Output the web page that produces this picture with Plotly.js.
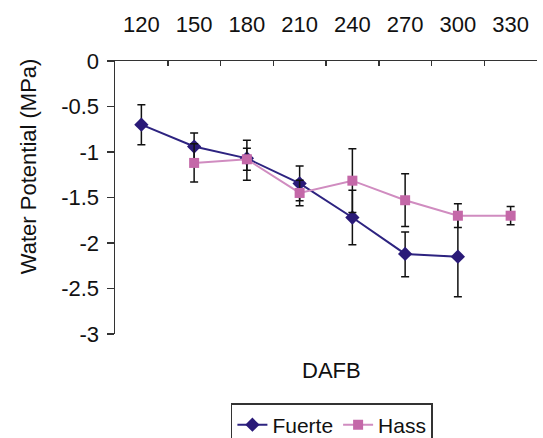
<!DOCTYPE html>
<html>
<head>
<meta charset="utf-8">
<script src="https://cdn.plot.ly/plotly-3.0.1.min.js"></script>
<style>html,body{margin:0;padding:0;background:#fff;}#chart{width:543px;height:438px;}</style>
</head>
<body>
<div id="chart"></div>
<script>
const categories = ['120','150','180','210','240','270','300','330'];
const fuerte = [-0.70, -0.94, -1.07, -1.345, -1.72, -2.12, -2.15, null];
const fuerteErrPlus = [0.22, 0.15, 0.20, 0.19, 0.30, 0.24, 0.42, null];
const fuerteErrMinus = [0.22, 0.15, 0.24, 0.19, 0.30, 0.25, 0.44, null];
const hass = [null, -1.12, -1.08, -1.45, -1.315, -1.53, -1.70, -1.70];
const hassErr = [null, 0.21, 0.12, 0.14, 0.35, 0.29, 0.13, 0.10];
const yTickVals = [0, -0.5, -1, -1.5, -2, -2.5, -3];
const yTickText = ['0', '-0.5', '-1', '-1.5', '-2', '-2.5', '-3'];

const font = 'Liberation Sans, Arial, sans-serif';
const fs = 22;

const traces = [
  {
    x: categories, y: fuerte, name: 'Fuerte', type: 'scatter', mode: 'lines+markers',
    line: {color: '#2d2380', width: 2},
    marker: {symbol: 'diamond', size: 11, color: '#2a1a78'},
    error_y: {type: 'data', array: fuerteErrPlus, arrayminus: fuerteErrMinus, symmetric: false,
              color: '#111', thickness: 1.5, width: 4},
    connectgaps: false
  },
  {
    x: categories, y: hass, name: 'Hass', type: 'scatter', mode: 'lines+markers',
    line: {color: '#d08cc0', width: 2},
    marker: {symbol: 'square', size: 10, color: '#c468a8'},
    error_y: {type: 'data', array: hassErr, color: '#111', thickness: 1.5, width: 4},
    connectgaps: false
  }
];

const layout = {
  width: 543, height: 438,
  margin: {l: 115, r: 6, t: 61, b: 104, autoexpand: false},
  paper_bgcolor: '#fff', plot_bgcolor: '#fff',
  font: {family: font, size: fs, color: '#111'},
  showlegend: true,
  legend: {
    orientation: 'h', x: 0.514, xanchor: 'center', y: -0.253, yanchor: 'top',
    bordercolor: '#333', borderwidth: 1.5, font: {family: font, size: 21, color: '#111'},
    tracegroupgap: 0
  },
  xaxis: {
    type: 'category', side: 'top', range: [-0.5, 7.5],
    tickson: 'boundaries', ticks: 'inside', ticklen: 5, tickcolor: '#333', tickwidth: 1.5,
    showline: true, linecolor: '#333', linewidth: 1.5, showgrid: false, zeroline: false,
    ticklabelstandoff: 19, tickfont: {family: font, size: fs, color: '#111'}
  },
  yaxis: {
    range: [-3, 0], tickvals: yTickVals, ticktext: yTickText,
    ticks: 'outside', ticklen: 7, tickcolor: '#333', tickwidth: 1.5,
    showline: true, linecolor: '#333', linewidth: 1.5, showgrid: false, zeroline: false,
    tickfont: {family: font, size: fs, color: '#111'}, ticklabelstandoff: 3
  },
  annotations: [
    {text: 'DAFB', xref: 'paper', yref: 'paper', x: 0.514, y: -0.132, xanchor: 'center', yanchor: 'middle',
     showarrow: false, font: {family: font, size: fs, color: '#111'}},
    {text: 'Water Potential (MPa)', xref: 'paper', yref: 'paper', x: -0.206, y: 0.615, textangle: -90,
     xanchor: 'center', yanchor: 'middle', showarrow: false, font: {family: font, size: fs, color: '#111'}}
  ]
};

Plotly.newPlot('chart', traces, layout, {displayModeBar: false, staticPlot: true});
</script>
</body>
</html>
